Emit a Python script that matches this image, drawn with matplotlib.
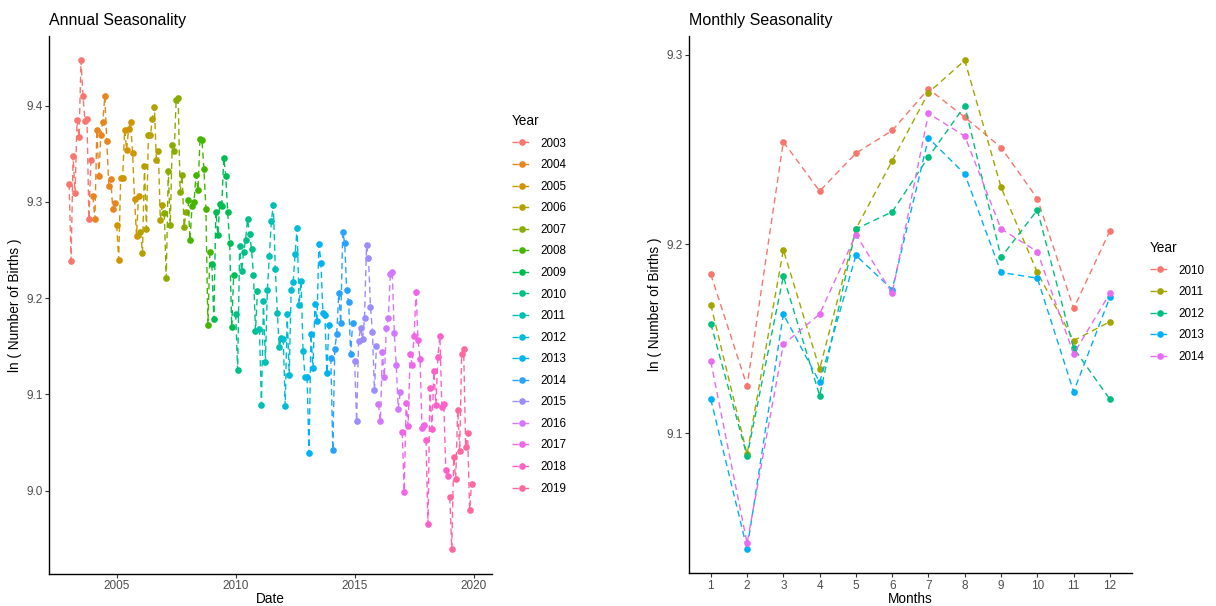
import numpy as np
import matplotlib
matplotlib.use("Agg")
import matplotlib.pyplot as plt
from matplotlib.lines import Line2D
from matplotlib.ticker import FormatStrFormatter

plt.rcParams['font.family'] = ['Liberation Sans', 'DejaVu Sans']

# log of monthly births, one list per year (Jan..Dec)
months = list(range(1, 13))
years = list(range(2003, 2020))
y2003 = [9.319, 9.239, 9.348, 9.309, 9.385, 9.367, 9.447, 9.410, 9.384, 9.386, 9.282, 9.344]
y2004 = [9.306, 9.282, 9.375, 9.327, 9.370, 9.383, 9.410, 9.363, 9.317, 9.324, 9.293, 9.299]
y2005 = [9.276, 9.240, 9.325, 9.325, 9.375, 9.354, 9.376, 9.383, 9.351, 9.303, 9.265, 9.306]
y2006 = [9.269, 9.247, 9.337, 9.272, 9.370, 9.369, 9.386, 9.399, 9.344, 9.353, 9.281, 9.297]
y2007 = [9.288, 9.221, 9.332, 9.276, 9.359, 9.353, 9.406, 9.408, 9.310, 9.328, 9.274, 9.290]
y2008 = [9.302, 9.260, 9.296, 9.300, 9.328, 9.312, 9.365, 9.364, 9.334, 9.293, 9.172, 9.248]
y2009 = [9.235, 9.178, 9.290, 9.266, 9.298, 9.296, 9.346, 9.327, 9.289, 9.257, 9.170, 9.224]
y2010 = [9.184, 9.125, 9.254, 9.228, 9.248, 9.260, 9.282, 9.267, 9.251, 9.224, 9.166, 9.207]
y2011 = [9.168, 9.089, 9.197, 9.134, 9.208, 9.244, 9.280, 9.297, 9.230, 9.185, 9.149, 9.159]
y2012 = [9.158, 9.088, 9.183, 9.120, 9.208, 9.217, 9.246, 9.273, 9.193, 9.218, 9.145, 9.118]
y2013 = [9.118, 9.039, 9.163, 9.127, 9.194, 9.176, 9.256, 9.237, 9.185, 9.182, 9.122, 9.172]
y2014 = [9.138, 9.042, 9.147, 9.163, 9.205, 9.174, 9.269, 9.257, 9.208, 9.196, 9.142, 9.174]
y2015 = [9.135, 9.072, 9.155, 9.169, 9.157, 9.179, 9.255, 9.242, 9.191, 9.165, 9.104, 9.150]
y2016 = [9.090, 9.072, 9.144, 9.118, 9.169, 9.179, 9.225, 9.227, 9.164, 9.131, 9.085, 9.102]
y2017 = [9.061, 8.999, 9.091, 9.067, 9.142, 9.131, 9.161, 9.206, 9.156, 9.137, 9.065, 9.068]
y2018 = [9.053, 8.965, 9.107, 9.064, 9.124, 9.089, 9.139, 9.161, 9.087, 9.090, 9.021, 9.015]
y2019 = [8.993, 8.939, 9.035, 9.012, 9.084, 9.041, 9.142, 9.147, 9.045, 9.060, 8.980, 9.007]

annual = [y2003, y2004, y2005, y2006, y2007, y2008, y2009, y2010, y2011,
          y2012, y2013, y2014, y2015, y2016, y2017, y2018, y2019]
monthly_years = [2010, 2011, 2012, 2013, 2014]
monthly = [y2010, y2011, y2012, y2013, y2014]


def hcl_hex(h, c=100.0, l=65.0):
    # polar Luv -> sRGB, like R's hcl()
    Xn, Yn, Zn = 95.047, 100.0, 108.883
    un = 4 * Xn / (Xn + 15 * Yn + 3 * Zn)
    vn = 9 * Yn / (Xn + 15 * Yn + 3 * Zn)
    hr = np.deg2rad(h)
    u, v = c * np.cos(hr), c * np.sin(hr)
    Y = Yn * ((l + 16) / 116) ** 3
    up = u / (13 * l) + un
    vp = v / (13 * l) + vn
    X = 9 * Y * up / (4 * vp)
    Z = -X / 3 - 5 * Y + 3 * Y / vp
    rgb = [(3.240479 * X - 1.537150 * Y - 0.498535 * Z) / Yn,
           (-0.969256 * X + 1.875992 * Y + 0.041556 * Z) / Yn,
           (0.055648 * X - 0.204043 * Y + 1.057311 * Z) / Yn]
    out = []
    for t in rgb:
        t = 1.055 * t ** (1 / 2.4) - 0.055 if t > 0.00304 else 12.92 * t
        out.append(min(max(t, 0.0), 1.0))
    return tuple(out)


def hue_pal(n):
    return [hcl_hex(h) for h in np.linspace(15, 375, n + 1)[:-1]]


W, H = 1216, 606
fig = plt.figure(figsize=(W / 100, H / 100), dpi=100)
ax1 = fig.add_axes([49 / W, 1 - 573.7 / H, (491.7 - 49) / W, (573.7 - 36) / H])
ax2 = fig.add_axes([689 / W, 1 - 573.3 / H, (1131.7 - 689) / W, (573.3 - 36) / H])

dash = (0, (4.5, 3))
lw = 1.0
ms = 4.8


def style(ax):
    for s in ['top', 'right']:
        ax.spines[s].set_visible(False)
    for s in ['left', 'bottom']:
        ax.spines[s].set_color('black')
        ax.spines[s].set_linewidth(1.0)
    ax.tick_params(length=2.7, width=0.8, color='#333333', labelcolor='#4D4D4D',
                   labelsize=8.5, pad=2.0)


leg_kw = dict(loc='upper left', frameon=False, fontsize=8.4, title_fontsize=9.8,
              handlelength=1.7, handletextpad=0.75, labelspacing=0.82,
              borderpad=0, borderaxespad=0, alignment='left')

# Annual seasonality
cols = hue_pal(len(years))
handles = []
for yr, vals, col in zip(years, annual, cols):
    x = [yr + (m - 1) / 12 for m in months]
    ax1.plot(x, vals, linestyle=dash, color=col, lw=lw, marker='o', ms=ms,
             markeredgewidth=0)
    handles.append(Line2D([], [], linestyle=dash, color=col, lw=lw, marker='o',
                          ms=ms, markeredgewidth=0, label=str(yr)))
style(ax1)
ax1.set_xticks([2005, 2010, 2015, 2020])
ax1.set_yticks([9.0, 9.1, 9.2, 9.3, 9.4])
ax1.yaxis.set_major_formatter(FormatStrFormatter('%.1f'))
ax1.set_xlabel('Date', fontsize=9.8, labelpad=0)
ax1.set_ylabel('ln ( Number of Births )', fontsize=9.8, labelpad=3)
ax1.set_title('Annual Seasonality', loc='left', fontsize=11.5, pad=8)
fig.legend(handles=handles, title='Year', bbox_to_anchor=(512 / W, 1 - 114 / H),
           **leg_kw)

# Monthly seasonality
cols5 = hue_pal(len(monthly_years))
handles2 = []
for yr, vals, col in zip(monthly_years, monthly, cols5):
    ax2.plot(months, vals, linestyle=dash, color=col, lw=lw, marker='o', ms=ms,
             markeredgewidth=0)
    handles2.append(Line2D([], [], linestyle=dash, color=col, lw=lw, marker='o',
                           ms=ms, markeredgewidth=0, label=str(yr)))
style(ax2)
ax2.set_xlim(0.4, 12.6)
ax2.set_xticks(months)
ax2.set_yticks([9.1, 9.2, 9.3])
ax2.yaxis.set_major_formatter(FormatStrFormatter('%.1f'))
ax2.set_xlabel('Months', fontsize=9.8, labelpad=0)
ax2.set_ylabel('ln ( Number of Births )', fontsize=9.8, labelpad=3)
ax2.set_title('Monthly Seasonality', loc='left', fontsize=11.5, pad=8)
fig.legend(handles=handles2, title='Year', bbox_to_anchor=(1150 / W, 1 - 241 / H),
           **leg_kw)

fig.savefig('out.png', dpi=100)
